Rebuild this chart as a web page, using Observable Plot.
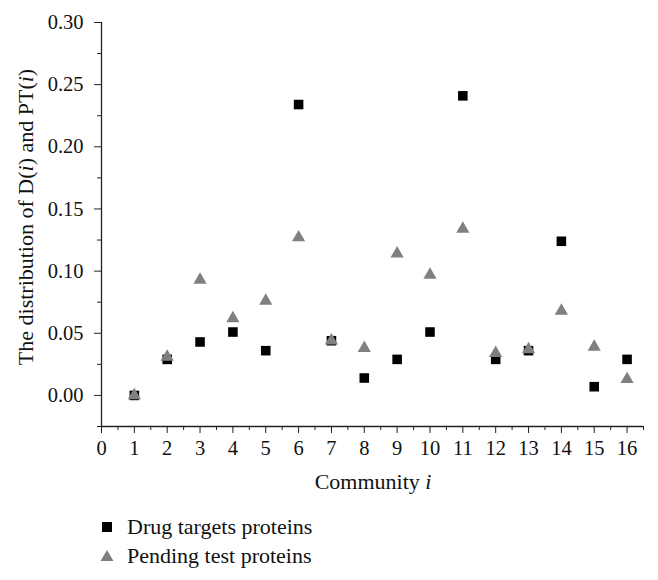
<!DOCTYPE html>
<html><head><meta charset="utf-8">
<script src="https://cdn.jsdelivr.net/npm/d3@7"></script>
<script src="https://cdn.jsdelivr.net/npm/@observablehq/plot@0.6"></script>
<style>
body{margin:0;background:#fff;font-family:"Liberation Serif",serif;}
#chart svg{display:block;}
#legend{position:relative;width:658px;height:80px;}
.row{position:absolute;left:100px;height:24px;display:flex;align-items:center;font-size:22px;color:#111;}
.row svg{margin-right:13px;}
</style></head><body>
<div id="chart"></div>
<div id="legend"></div>
<script>
const communities = [1,2,3,4,5,6,7,8,9,10,11,12,13,14,15,16];
const drugTargets = [0.000,0.029,0.043,0.051,0.036,0.234,0.044,0.014,0.029,0.051,0.241,0.029,0.036,0.124,0.007,0.029];
const pendingTest = [0.000,0.031,0.093,0.062,0.076,0.127,0.044,0.038,0.114,0.097,0.134,0.034,0.037,0.068,0.039,0.013];
const xTicks = [0,1,2,3,4,5,6,7,8,9,10,11,12,13,14,15,16];
const xMinor = [0.5,1.5,2.5,3.5,4.5,5.5,6.5,7.5,8.5,9.5,10.5,11.5,12.5,13.5,14.5,15.5,16.5];
const yTicks = [0,0.05,0.10,0.15,0.20,0.25,0.30];
const yMinor = [-0.025,0.025,0.075,0.125,0.175,0.225,0.275];
const seriesNames = ["Drug targets proteins","Pending test proteins"];

const dData = communities.map((c,i)=>({x:c,y:drugTargets[i]}));
const pData = communities.map((c,i)=>({x:c,y:pendingTest[i]}));

const plot = Plot.plot({
  width:658, height:500,
  marginLeft:101, marginRight:15, marginTop:22, marginBottom:74,
  style:{fontFamily:'"Liberation Serif",serif', fontSize:"20px", color:"#111", background:"#fff"},
  x:{domain:[0,16.5]},
  y:{domain:[-0.025,0.30]},
  marks:[
    Plot.axisY({ticks:yTicks, tickSize:7, tickPadding:11, tickFormat:d3.format(".2f"), label:null, stroke:"#222", fontSize:20.5}),
    Plot.axisY({ticks:yMinor, tickSize:4, tickFormat:()=>"", label:null, stroke:"#222"}),
    Plot.axisX({ticks:xTicks, tickSize:7, tickPadding:7, tickFormat:d3.format("d"), label:null, stroke:"#222", fontSize:20.5}),
    Plot.axisX({ticks:xMinor, tickSize:4, tickFormat:()=>"", label:null, stroke:"#222"}),
    Plot.ruleX([0],{stroke:"#222", strokeWidth:1.3}),
    Plot.ruleY([-0.025],{stroke:"#222", strokeWidth:1.3}),
    Plot.dot(dData,{x:"x",y:"y",symbol:"square",r:5.4,fill:"#000",stroke:"none"}),
    Plot.dot(pData,{x:"x",y:"y",symbol:"triangle",r:4.9,fill:"#808080",stroke:"none"})
  ]
});
document.getElementById("chart").appendChild(plot);

// axis titles with italic i
const svg = d3.select(plot);
const yl = svg.append("text")
  .attr("transform","translate(28,217) rotate(-90)")
  .attr("text-anchor","middle").attr("dominant-baseline","middle")
  .attr("font-size",22).attr("fill","#111");
yl.append("tspan").text("The distribution of D(");
yl.append("tspan").attr("font-style","italic").text("i");
yl.append("tspan").text(") and PT(");
yl.append("tspan").attr("font-style","italic").text("i");
yl.append("tspan").text(")");
const xl = svg.append("text")
  .attr("x",373).attr("y",489)
  .attr("text-anchor","middle")
  .attr("font-size",22).attr("fill","#111");
xl.append("tspan").text("Community ");
xl.append("tspan").attr("font-style","italic").text("i");

// legend
const legend = document.getElementById("legend");
const icons = [
  '<svg width="14" height="14"><rect x="2" y="2" width="10" height="10" fill="#000"/></svg>',
  '<svg width="14" height="14"><polygon points="7,1 13.5,12 0.5,12" fill="#808080"/></svg>'
];
seriesNames.forEach((n,i)=>{
  const r = document.createElement("div");
  r.className="row";
  r.style.top = (15 + i*29) + "px";
  r.innerHTML = icons[i] + "<span>"+n+"</span>";
  legend.appendChild(r);
});
</script>
</body></html>
